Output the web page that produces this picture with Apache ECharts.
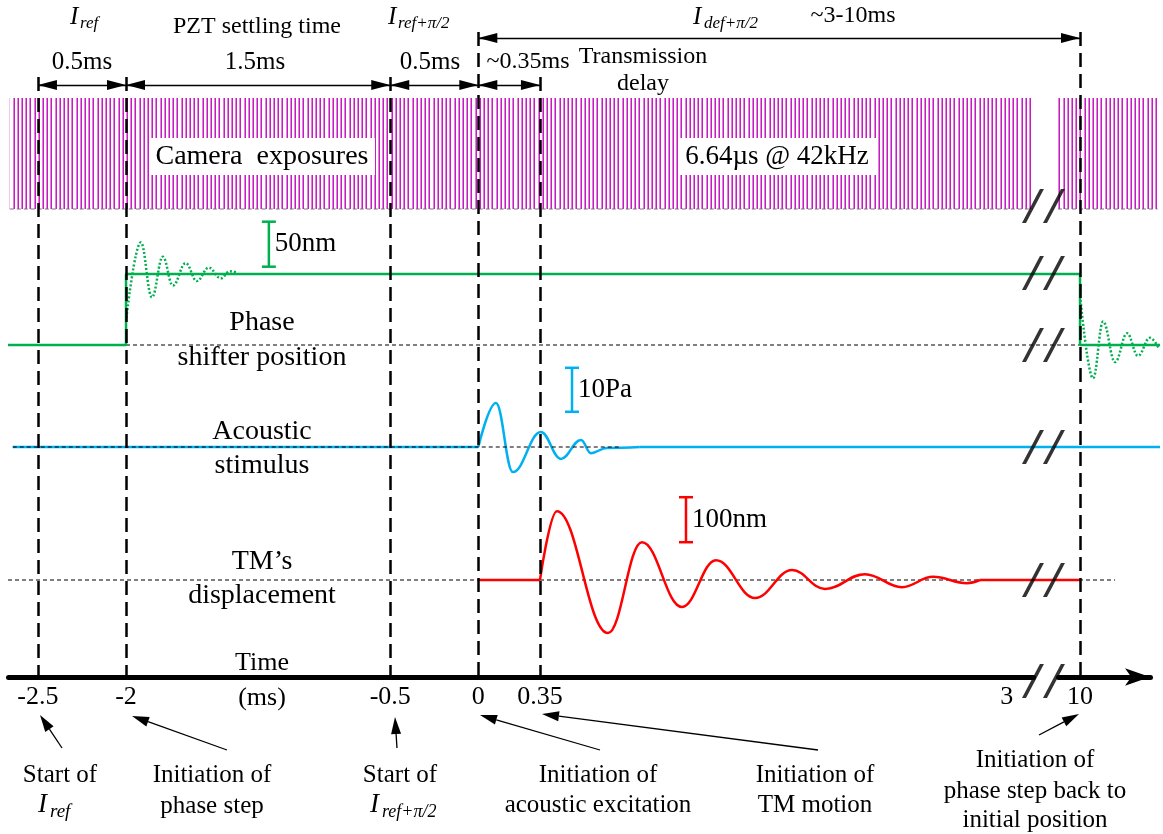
<!DOCTYPE html>
<html lang="en">
<head>
<meta charset="UTF-8">
<title>Phase step timing</title>
<style>
    html, body { margin: 0; padding: 0; background: #fff; }
    #timingChart { width: 1163px; height: 834px; }
</style>
</head>
<body>
<div id="timingChart"></div>
<script src="https://cdn.jsdelivr.net/npm/echarts@6/dist/echarts.min.js"></script>
<script>
// ---------- data, time in ms ----------
var eventTimes = [-2.5, -2, -0.5, 0, 0.35, 10];
var tickValues = [-2.5, -2, -0.5, 0, 0.35, 3, 10];
var timeBreak = [3.149, 9.875];
var spanShort = [[-2.5, -2], [-2, -0.5], [-0.5, 0], [0, 0.35]];
var spanLong = [[0, 10]];
var exposureSpans = [[-2.66, 3.149], [9.875, 10.44]];

// phase shifter position (nm)
var phaseStep = [[-2.67, 0], [-2, 0], [-2, 79], [10, 79], [10, 0], [10.454, 0]];
var phaseRingUp = [[-1.998, 30], [-1.916, 114], [-1.853, 53], [-1.791, 98], [-1.734, 66], [-1.661, 91],
    [-1.598, 71], [-1.530, 86], [-1.462, 74], [-1.411, 82], [-1.365, 80]];
var phaseRingDown = [[10.003, 50], [10.074, -37], [10.131, 26], [10.199, -19], [10.267, 13],
    [10.329, -12], [10.397, 8], [10.448, -4]];
var phaseBaseline = [[-2, 0], [10.454, 0]];
var phaseBar = [[-1.189, 87, 137]];

// acoustic stimulus (Pa)
var acousticPre = [[-2.643, 0], [0, 0]];
var acousticBurst = [[0, 0], [0.100, 10.0], [0.196, -5.7], [0.355, 3.4], [0.469, -2.7], [0.583, 1.6],
    [0.639, -1.4], [0.730, -0.2], [0.917, 0]];
var acousticPost = [[0.917, 0], [10.454, 0]];
var acousticBaseline = [[-2.643, 0], [0.8, 0]];
var acousticBar = [[0.532, 8, 18]];

// TM displacement (nm)
var tmPre = [[0, 0], [0.35, 0]];
var tmMotion = [[0.35, 0], [0.446, 153], [0.736, -118], [0.929, 84], [1.156, -60], [1.349, 44],
    [1.571, -40], [1.781, 22], [1.968, -20], [2.195, 13], [2.405, -16], [2.581, 7], [2.774, -7], [2.848, 0]];
var tmPost = [[2.848, 0], [10, 0]];
var tmBaseline = [[-2.67, 0], [10.199, 0]];
var tmBar = [[1.179, 84, 184]];

// ---------- style ----------
var SERIF = '"Liberation Serif", "Times New Roman", serif';
var GREEN = '#00b050', BLUE = '#00b0f0', RED = '#ff0000';
var X_MIN = -2.67, X_MAX = 10.454, X_MAX_AXIS = 10.3975;
var SLASH = 'path://M0,34L4,34L22,0L18,0Z';

// stripe texture for the camera exposure train
var stripe = document.createElement('canvas');
stripe.width = 21; stripe.height = 4;
var sctx = stripe.getContext('2d');
[0, 4, 8, 13, 17].forEach(function (x) {
    sctx.fillStyle = '#e07fdc';
    sctx.fillRect(x, 0, 1, 4);
    sctx.fillStyle = '#c51dc2';
    sctx.fillRect(x + 1, 0, 1, 4);
});

function timeAxis(gridIndex, max, visible) {
    return {
        type: 'value', gridIndex: gridIndex, min: X_MIN, max: max, show: visible,
        breaks: [{ start: timeBreak[0], end: timeBreak[1], gap: 0.142 }],
        breakArea: { show: false },
        axisLine: { show: visible, onZero: false, symbol: ['none', 'arrow'], symbolSize: [13, 25],
            lineStyle: { color: '#000', width: 5 } },
        axisTick: { show: false },
        splitLine: { show: false },
        axisLabel: { show: visible, customValues: tickValues, margin: 7, color: '#000',
            fontFamily: SERIF, fontSize: 26, formatter: function (v) { return String(v); } }
    };
}

function trace(grid, data, color, width, extra) {
    var s = {
        type: 'line', xAxisIndex: grid, yAxisIndex: grid, data: data, symbol: 'none', silent: true, z: 3,
        lineStyle: { color: color, width: width }
    };
    return Object.assign(s, extra || {});
}

function dashedBase(grid, data, z) {
    return trace(grid, data, '#000', 1, { z: z, lineStyle: { color: '#000', width: 1, type: [4, 3] } });
}

function scaleBar(grid, data, color, label) {
    return {
        type: 'custom', xAxisIndex: grid, yAxisIndex: grid, data: data, silent: true, z: 4,
        renderItem: function (params, api) {
            var t = api.value(0);
            var lo = api.coord([t, api.value(1)]);
            var hi = api.coord([t, api.value(2)]);
            var x = lo[0], st = { stroke: color, lineWidth: 2.5 };
            return { type: 'group', children: [
                { type: 'line', shape: { x1: x, y1: lo[1], x2: x, y2: hi[1] }, style: st },
                { type: 'line', shape: { x1: x - 7, y1: lo[1], x2: x + 7, y2: lo[1] }, style: st },
                { type: 'line', shape: { x1: x - 7, y1: hi[1], x2: x + 7, y2: hi[1] }, style: st },
                { type: 'text', x: x + 6, y: (lo[1] + hi[1]) / 2, style: { text: label, fontFamily: SERIF,
                    fontSize: 27, fill: '#000', align: 'left', verticalAlign: 'middle' } }
            ] };
        }
    };
}

function txt(x, y, s, size, italic, align) {
    return { type: 'text', x: x, y: y, z: 100, silent: true, style: { text: s, fontFamily: SERIF,
        fontSize: size, fontStyle: italic ? 'italic' : 'normal', fill: '#000',
        align: align || 'center', verticalAlign: 'middle' } };
}

function mathLabel(xI, yMid, sub, xSub, sizeI, sizeSub) {
    return [txt(xI, yMid, 'I', sizeI, true, 'left'), txt(xSub, yMid + 7, sub, sizeSub, true, 'left')];
}

function arrowEls(x1, y1, x2, y2) {
    var dx = x2 - x1, dy = y2 - y1, len = Math.sqrt(dx * dx + dy * dy), ux = dx / len, uy = dy / len;
    var bx = x2 - ux * 17, by = y2 - uy * 17;
    return [
        { type: 'line', z: 100, silent: true, shape: { x1: x1, y1: y1, x2: bx, y2: by },
            style: { stroke: '#000', lineWidth: 1.3 } },
        { type: 'polygon', z: 100, silent: true,
            shape: { points: [[x2, y2], [bx - uy * 5, by + ux * 5], [bx + uy * 5, by - ux * 5]] },
            style: { fill: '#000' } }
    ];
}

var lineTops = { '0': 32, '10': 32 };
var slashRows = [206, 273, 345, 447, 580, 681];

var option = {
    animation: false,
    backgroundColor: '#fff',
    grid: [
        { left: 8, top: 0, width: 1142, height: 677, outerBoundsMode: 'none' },
        { left: 8, top: 98, width: 1152, height: 111, outerBoundsMode: 'none' },
        { left: 8, top: 210, width: 1152, height: 189, outerBoundsMode: 'none' },
        { left: 8, top: 359, width: 1152, height: 154, outerBoundsMode: 'none' },
        { left: 8, top: 490, width: 1152, height: 157.5, outerBoundsMode: 'none' }
    ],
    xAxis: [timeAxis(0, X_MAX_AXIS, true), timeAxis(1, X_MAX, false), timeAxis(2, X_MAX, false),
        timeAxis(3, X_MAX, false), timeAxis(4, X_MAX, false)],
    yAxis: [
        { type: 'value', gridIndex: 0, min: 0, max: 677, inverse: true, show: false },
        { type: 'value', gridIndex: 1, min: 0, max: 1, show: false },
        { type: 'value', gridIndex: 2, min: -60, max: 150, show: false },
        { type: 'value', gridIndex: 3, min: -15, max: 20, show: false },
        { type: 'value', gridIndex: 4, min: -150, max: 200, show: false }
    ],
    series: [
        // camera exposures
        {
            type: 'custom', xAxisIndex: 1, yAxisIndex: 1, data: exposureSpans, silent: true, z: 1,
            renderItem: function (params, api) {
                var a = api.coord([api.value(0), 1]);
                var b = api.coord([api.value(1), 0]);
                return { type: 'group', children: [
                    { type: 'rect', shape: { x: a[0], y: a[1], width: b[0] - a[0], height: b[1] - a[1] },
                        style: { fill: { image: stripe, repeat: 'repeat' } } },
                    { type: 'line', shape: { x1: a[0], y1: b[1], x2: b[0], y2: b[1] },
                        style: { stroke: '#777', lineWidth: 1, lineDash: [4, 3] } }
                ] };
            }
        },
        // phase shifter
        dashedBase(2, phaseBaseline, 2),
        trace(2, phaseStep, GREEN, 2.5),
        trace(2, phaseRingUp, GREEN, 2.5, { smooth: 0.4, smoothMonotone: 'x',
            lineStyle: { color: GREEN, width: 2.5, type: [2, 2] } }),
        trace(2, phaseRingDown, GREEN, 2.5, { smooth: 0.4, smoothMonotone: 'x',
            lineStyle: { color: GREEN, width: 2.5, type: [2, 2] } }),
        scaleBar(2, phaseBar, GREEN, '50nm'),
        // acoustic stimulus
        trace(3, acousticPre, BLUE, 2.5),
        trace(3, acousticBurst, BLUE, 2.5, { smooth: 0.4, smoothMonotone: 'x' }),
        trace(3, acousticPost, BLUE, 2.5),
        dashedBase(3, acousticBaseline, 4),
        scaleBar(3, acousticBar, BLUE, '10Pa'),
        // TM displacement
        dashedBase(4, tmBaseline, 2),
        trace(4, tmPre, RED, 2.5),
        trace(4, tmMotion, RED, 2.5, { smooth: 0.4, smoothMonotone: 'x' }),
        trace(4, tmPost, RED, 2.5),
        scaleBar(4, tmBar, RED, '100nm'),
        // break marks + event lines
        {
            type: 'scatter', xAxisIndex: 0, yAxisIndex: 0, silent: true, clip: false, z: 6,
            data: slashRows.map(function (r) { return [timeBreak[0], r]; }),
            symbol: SLASH, symbolSize: [22, 34], itemStyle: { color: '#000' },
            markLine: {
                silent: true, symbol: 'none', label: { show: false },
                lineStyle: { color: '#000', width: 2.5, type: [14, 7] },
                data: eventTimes.map(function (t) {
                    return [{ coord: [t, lineTops[String(t)] || 77] }, { coord: [t, 677] }];
                })
            }
        },
        {
            type: 'scatter', xAxisIndex: 0, yAxisIndex: 0, silent: true, clip: false, z: 6,
            data: slashRows.map(function (r) { return [timeBreak[1], r]; }),
            symbol: SLASH, symbolSize: [22, 34], symbolOffset: [-4, 0], itemStyle: { color: '#000' },
            markLine: {
                silent: true, symbol: ['triangle', 'triangle'], symbolSize: [10, 19],
                symbolOffset: [[0, 9.5], [0, 9.5]], label: { show: false },
                lineStyle: { color: '#000', width: 1.3, type: 'solid' },
                data: spanShort.map(function (s) { return [{ coord: [s[0], 85] }, { coord: [s[1], 85] }]; })
                    .concat(spanLong.map(function (s) { return [{ coord: [s[0], 38] }, { coord: [s[1], 38] }]; }))
            }
        }
    ],
    graphic: { elements: [].concat(
        mathLabel(70, 17, 'ref', 80, 25, 17),
        [txt(257, 27, 'PZT settling time', 24)],
        mathLabel(388, 17, 'ref+π/2', 398, 25, 17),
        mathLabel(693, 17, 'def+π/2', 704, 25, 17),
        [txt(853, 16, '~3-10ms', 24),
         txt(82, 62, '0.5ms', 25), txt(255, 62, '1.5ms', 25), txt(430, 62, '0.5ms', 25),
         txt(528, 62, '~0.35ms', 24), txt(643, 57, 'Transmission', 24), txt(643, 84, 'delay', 24),
         { type: 'rect', z: 90, silent: true, shape: { x: 150, y: 138, width: 225, height: 37 }, style: { fill: '#fff' } },
         { type: 'rect', z: 90, silent: true, shape: { x: 678, y: 138, width: 199, height: 37 }, style: { fill: '#fff' } },
         txt(262, 157, 'Camera  exposures', 28), txt(777, 157, '6.64µs @ 42kHz', 27),
         txt(262, 323, 'Phase', 28), txt(262, 358, 'shifter position', 28),
         txt(262, 432, 'Acoustic', 28), txt(262, 466, 'stimulus', 28),
         txt(262, 562, 'TM’s', 28), txt(262, 596, 'displacement', 28),
         txt(262, 663, 'Time', 26), txt(262, 698, '(ms)', 26),
         txt(60, 775, 'Start of', 25), txt(212, 775, 'Initiation of', 25), txt(212, 806, 'phase step', 25),
         txt(400, 775, 'Start of', 25), txt(598, 775, 'Initiation of', 25), txt(598, 805, 'acoustic excitation', 25),
         txt(815, 775, 'Initiation of', 25), txt(815, 805, 'TM motion', 25),
         txt(1035, 760, 'Initiation of', 25), txt(1035, 791, 'phase step back to', 25),
         txt(1035, 820, 'initial position', 25)],
        mathLabel(38, 805, 'ref', 50, 27, 19),
        mathLabel(370, 805, 'ref+π/2', 382, 27, 18),
        arrowEls(62, 748, 40, 715), arrowEls(227, 750, 132, 716), arrowEls(397, 748, 395, 717),
        arrowEls(600, 750, 480, 715), arrowEls(818, 750, 542, 714), arrowEls(1039, 735, 1079, 714)
    ) }
};

var timingChart = echarts.init(document.getElementById('timingChart'));
timingChart.setOption(option);
</script>
</body>
</html>
